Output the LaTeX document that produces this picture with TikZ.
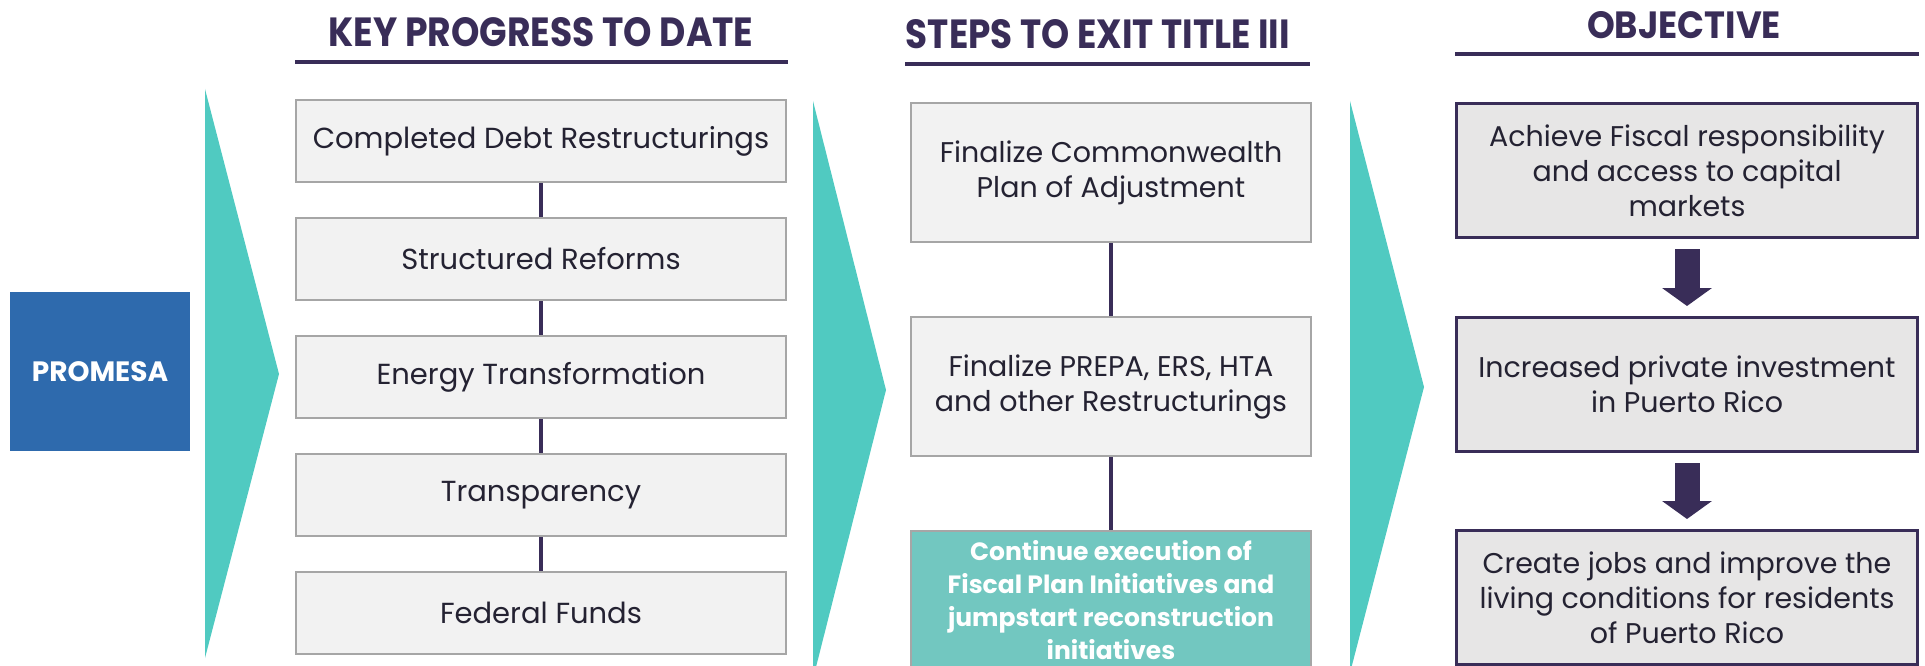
\documentclass[tikz,border=0pt]{standalone}
\usepackage{fontspec}
\setmainfont{Poppins}
\usepackage{graphicx}
\usetikzlibrary{arrows.meta, positioning}

\definecolor{promblue}{RGB}{46,106,173}
\definecolor{chevteal}{RGB}{80,202,193}
\definecolor{stepteal}{RGB}{114,199,192}
\definecolor{darkplum}{RGB}{57,45,88}
\definecolor{boxgray}{RGB}{166,166,166}
\definecolor{boxfill}{RGB}{242,242,242}
\definecolor{goalfill}{RGB}{231,230,230}
\definecolor{inktext}{RGB}{36,34,50}

\begin{document}
\begin{tikzpicture}[x=1pt, y=-1pt,
  progbox/.style={draw=boxgray, line width=2pt, fill=boxfill, text=inktext,
    minimum width=490pt, minimum height=82pt, font=\fontsize{29pt}{35pt}\selectfont},
  stepbox/.style={progbox, minimum width=400pt, minimum height=139pt, align=center,
    font=\fontsize{28.5pt}{35pt}\selectfont},
  goalbox/.style={draw=darkplum, line width=3pt, fill=goalfill, text=inktext,
    minimum width=461pt, minimum height=134pt, align=center, font=\fontsize{28.5pt}{35pt}\selectfont},
  link/.style={darkplum, line width=4pt},
  bigarrow/.style={darkplum, line width=25pt, -{Triangle[width=49pt,length=18pt]}},
  heading/.style={text=darkplum, font=\bfseries, anchor=base, inner sep=0pt},
  headrule/.style={darkplum, line width=4.5pt},
  chevron/.style={fill=chevteal}]
\useasboundingbox (0,0) rectangle (1925,666);
\clip (0,0) rectangle (1925,666);

% column headings
\node[heading] (t1) at (541,47) {\resizebox{425pt}{29pt}{KEY PROGRESS TO DATE}};
\node[heading] (t2) at (1098,49) {\resizebox{384pt}{29pt}{STEPS TO EXIT TITLE III}};
\node[heading] (t3) at (1684,39) {\resizebox{194pt}{27pt}{OBJECTIVE}};
\draw[headrule] (295,62) -- (788,62);
\draw[headrule] (905,64) -- (1310,64);
\draw[headrule] (1455,54) -- (1919,54);

\node[fill=promblue, text=white, font=\bfseries\fontsize{28pt}{28pt}\selectfont,
  minimum width=180pt, minimum height=159pt] (promesa) at (100,371.5) {PROMESA};

% chevrons
\fill[chevron] (205,89) -- (279,374) -- (205,658) -- cycle;
\fill[chevron] (813,101) -- (886,390) -- (813,679) -- cycle;
\fill[chevron] (1350,101) -- (1424,387) -- (1350,673) -- cycle;

% progress so far
\node[progbox] (k1) at (541,141) {Completed Debt Restructurings};
\node[progbox, below=34pt of k1] (k2) {Structured Reforms};
\node[progbox, below=34pt of k2] (k3) {Energy Transformation};
\node[progbox, below=34pt of k3] (k4) {Transparency};
\node[progbox, below=34pt of k4] (k5) {Federal Funds};
\foreach \a/\b in {k1/k2, k2/k3, k3/k4, k4/k5}
  \draw[link] (\a) -- (\b);

% steps
\node[stepbox] (s1) at (1111,172.5) {Finalize Commonwealth\\Plan of Adjustment};
\node[stepbox, below=73pt of s1] (s2) {Finalize PREPA, ERS, HTA\\and other Restructurings};
\node[stepbox, below=73pt of s2, fill=stepteal, text=white,
  font=\bfseries\fontsize{25pt}{33pt}\selectfont] (s3)
  {Continue execution of\\Fiscal Plan Initiatives and\\jumpstart reconstruction\\initiatives};
\draw[link] (s1) -- (s2);
\draw[link] (s2) -- (s3);

% objective
\node[goalbox] (g1) at (1687,170.5) {Achieve Fiscal responsibility\\and access to capital\\markets};
\node[goalbox, below=77pt of g1] (g2) {Increased private investment\\in Puerto Rico};
\node[goalbox, below=76pt of g2] (g3) {Create jobs and improve the\\living conditions for residents\\of Puerto Rico};
\draw[bigarrow] ([yshift=-10pt]g1.south) -- ([yshift=10pt]g2.north);
\draw[bigarrow] ([yshift=-10pt]g2.south) -- ([yshift=10pt]g3.north);
\end{tikzpicture}
\end{document}
